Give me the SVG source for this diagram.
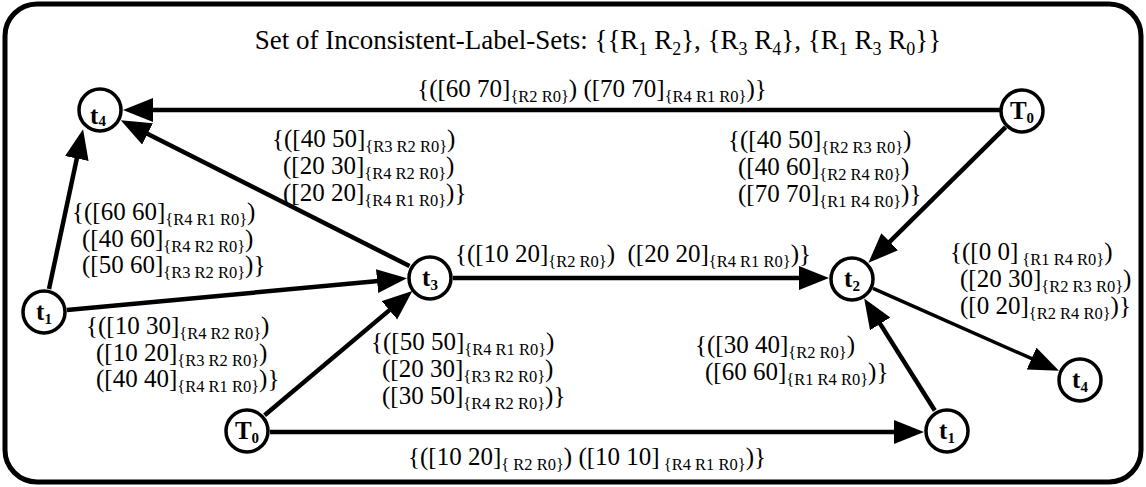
<svg xmlns="http://www.w3.org/2000/svg" width="1146" height="487" viewBox="0 0 1146 487">
<style>
.frame{fill:#fff;stroke:#000;stroke-width:5}
.node circle{fill:#fff;stroke:#000;stroke-width:3.5}
.node text{font-weight:bold;font-size:25px;text-anchor:middle;fill:#000}
.node .ns{font-size:15px}
.edge{stroke:#000;stroke-width:4.5;fill:none;marker-end:url(#ah)}
.thin{stroke-width:3.5}
.t{font-size:25px;fill:#000;white-space:pre}
.s{font-size:16.5px}
.title{font-size:27px}
.title .s{font-size:18px}
</style>
<defs>
<marker id="ah" markerUnits="userSpaceOnUse" markerWidth="32" markerHeight="26" refX="23" refY="12" orient="auto">
<path d="M0,0 L30,12 L0,24 z" fill="#000"/>
</marker>
</defs>
<rect class="frame" x="5" y="4" width="1136" height="478" rx="32" ry="32"/>
<g font-family="'Liberation Serif', 'Times New Roman', serif">
<text id="title" class="t title" x="598" y="49" text-anchor="middle">Set of Inconsistent-Label-Sets: {{R<tspan class="s" dy="6">1</tspan><tspan dy="-6"> R</tspan><tspan class="s" dy="6">2</tspan><tspan dy="-6">}, {R</tspan><tspan class="s" dy="6">3</tspan><tspan dy="-6"> R</tspan><tspan class="s" dy="6">4</tspan><tspan dy="-6">}, {R</tspan><tspan class="s" dy="6">1</tspan><tspan dy="-6"> R</tspan><tspan class="s" dy="6">3</tspan><tspan dy="-6"> R</tspan><tspan class="s" dy="6">0</tspan><tspan dy="-6">}}</tspan></text>
<g id="connectors">
<line class="edge" x1="1000" y1="110" x2="130" y2="110"/>
<line class="edge" x1="409.5" y1="266" x2="127" y2="123.5"/>
<line class="edge" x1="49" y1="289" x2="81.6" y2="136"/>
<line class="edge" x1="67" y1="310" x2="400" y2="279"/>
<line class="edge" x1="264.6" y1="415.2" x2="407" y2="295.4"/>
<line class="edge" x1="453" y1="278" x2="822" y2="278"/>
<line class="edge" x1="1005.6" y1="127.2" x2="873.4" y2="257.9"/>
<line class="edge" x1="934.8" y1="410.5" x2="867.9" y2="304.4"/>
<line class="edge thin" x1="873" y1="288.3" x2="1052.6" y2="367.9"/>
<line class="edge" x1="270" y1="432" x2="917" y2="432"/>
</g>
<g id="node-t4-top" class="node"><circle cx="100" cy="110" r="21"/><text x="98" y="124">t<tspan class="ns" dy="2">4</tspan></text></g>
<g id="node-T0-top" class="node"><circle cx="1022" cy="111" r="21"/><text x="1022" y="119">T<tspan class="ns" dy="4">0</tspan></text></g>
<g id="node-t1-left" class="node"><circle cx="44" cy="312" r="21"/><text x="44" y="320">t<tspan class="ns" dy="4">1</tspan></text></g>
<g id="node-t3" class="node"><circle cx="430" cy="278" r="21"/><text x="430" y="286">t<tspan class="ns" dy="4">3</tspan></text></g>
<g id="node-t2" class="node"><circle cx="852" cy="279" r="21"/><text x="852" y="287">t<tspan class="ns" dy="4">2</tspan></text></g>
<g id="node-T0-bottom" class="node"><circle cx="247" cy="431" r="21"/><text x="247" y="439">T<tspan class="ns" dy="4">0</tspan></text></g>
<g id="node-t1-bottom" class="node"><circle cx="947" cy="431" r="21"/><text x="947" y="439">t<tspan class="ns" dy="4">1</tspan></text></g>
<g id="node-t4-bottom" class="node"><circle cx="1080" cy="380" r="21"/><text x="1080" y="388">t<tspan class="ns" dy="4">4</tspan></text></g>
<g id="labels">
<g id="lbl-T0-t4"><text class="t" x="592" y="97" text-anchor="middle">{([60 70]<tspan class="s" dy="5">{R2 R0}</tspan><tspan dy="-5">) ([70 70]</tspan><tspan class="s" dy="5">{R4 R1 R0}</tspan><tspan dy="-5">)}</tspan></text></g>
<g id="lbl-t3-t4">
<text class="t" x="272" y="147">{([40 50]<tspan class="s" dy="5">{R3 R2 R0}</tspan><tspan dy="-5">)</tspan></text>
<text class="t" x="283" y="174">([20 30]<tspan class="s" dy="5">{R4 R2 R0}</tspan><tspan dy="-5">)</tspan></text>
<text class="t" x="283" y="201">([20 20]<tspan class="s" dy="5">{R4 R1 R0}</tspan><tspan dy="-5">)}</tspan></text>
</g>
<g id="lbl-t1-t4">
<text class="t" x="72" y="220">{([60 60]<tspan class="s" dy="5">{R4 R1 R0}</tspan><tspan dy="-5">)</tspan></text>
<text class="t" x="82" y="247">([40 60]<tspan class="s" dy="5">{R4 R2 R0}</tspan><tspan dy="-5">)</tspan></text>
<text class="t" x="82" y="273">([50 60]<tspan class="s" dy="5">{R3 R2 R0}</tspan><tspan dy="-5">)}</tspan></text>
</g>
<g id="lbl-t1-t3">
<text class="t" x="86" y="334">{([10 30]<tspan class="s" dy="5">{R4 R2 R0}</tspan><tspan dy="-5">)</tspan></text>
<text class="t" x="96" y="361">([10 20]<tspan class="s" dy="5">{R3 R2 R0}</tspan><tspan dy="-5">)</tspan></text>
<text class="t" x="96" y="387">([40 40]<tspan class="s" dy="5">{R4 R1 R0}</tspan><tspan dy="-5">)}</tspan></text>
</g>
<g id="lbl-T0-t3">
<text class="t" x="371" y="350">{([50 50]<tspan class="s" dy="5">{R4 R1 R0}</tspan><tspan dy="-5">)</tspan></text>
<text class="t" x="382" y="377">([20 30]<tspan class="s" dy="5">{R3 R2 R0}</tspan><tspan dy="-5">)</tspan></text>
<text class="t" x="382" y="404">([30 50]<tspan class="s" dy="5">{R4 R2 R0}</tspan><tspan dy="-5">)}</tspan></text>
</g>
<g id="lbl-t3-t2"><text class="t" x="455" y="262">{([10 20]<tspan class="s" dy="5">{R2 R0}</tspan><tspan dy="-5">)  ([20 20]</tspan><tspan class="s" dy="5">{R4 R1 R0}</tspan><tspan dy="-5">)}</tspan></text></g>
<g id="lbl-T0-t2">
<text class="t" x="728" y="148">{([40 50]<tspan class="s" dy="5">{R2 R3 R0}</tspan><tspan dy="-5">)</tspan></text>
<text class="t" x="738" y="175">([40 60]<tspan class="s" dy="5">{R2 R4 R0}</tspan><tspan dy="-5">)</tspan></text>
<text class="t" x="738" y="202">([70 70]<tspan class="s" dy="5">{R1 R4 R0}</tspan><tspan dy="-5">)}</tspan></text>
</g>
<g id="lbl-t2-t4">
<text class="t" x="950" y="260">{([0 0]<tspan class="s" dy="5"> {R1 R4 R0}</tspan><tspan dy="-5">)</tspan></text>
<text class="t" x="960" y="287">([20 30]<tspan class="s" dy="5">{R2 R3 R0}</tspan><tspan dy="-5">)</tspan></text>
<text class="t" x="960" y="314">([0 20]<tspan class="s" dy="5">{R2 R4 R0}</tspan><tspan dy="-5">)}</tspan></text>
</g>
<g id="lbl-t1-t2">
<text class="t" x="695" y="353">{([30 40]<tspan class="s" dy="5">{R2 R0}</tspan><tspan dy="-5">)</tspan></text>
<text class="t" x="705" y="380">([60 60]<tspan class="s" dy="5">{R1 R4 R0}</tspan><tspan dy="-5">)}</tspan></text>
</g>
<g id="lbl-T0-t1"><text class="t" x="408" y="465">{([10 20]<tspan class="s" dy="5">{ R2 R0}</tspan><tspan dy="-5">) ([10 10]</tspan><tspan class="s" dy="5"> {R4 R1 R0}</tspan><tspan dy="-5">)}</tspan></text></g>
</g>
</g>
</svg>
